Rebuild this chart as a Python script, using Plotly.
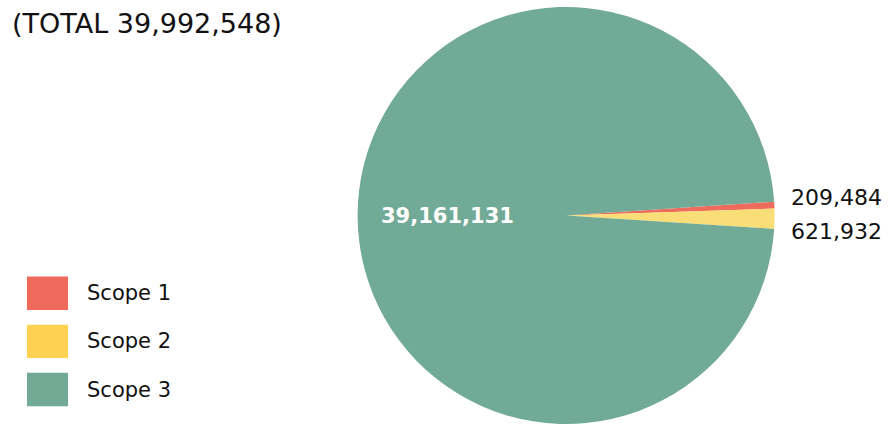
import plotly.graph_objects as go

categories = ["Scope 1", "Scope 2", "Scope 3"]
values = [209484, 621932, 39161131]
slice_colors = ["#EF6B5B", "#F9DE78", "#71AA96"]
legend_colors = ["#EF6A5A", "#FFD150", "#72AA96"]
title_text = "(TOTAL 39,992,548)"

FONT = "DejaVu Sans"
W, H = 888, 424

text_labels = [f"{v:,}" for v in values]

fig = go.Figure()
fig.add_trace(go.Pie(
    labels=categories,
    values=values,
    textinfo="none",
    marker=dict(colors=slice_colors, line=dict(width=0)),
    sort=False,
    direction="clockwise",
    rotation=86.2,
    domain=dict(x=[0.4, 0.875], y=[0, 1]),
    showlegend=False,
    hoverinfo="label+value",
))

annotations = []
# value labels (positions of label anchors in pixels)
label_pos = [(789, 194, "left", "#111111", False),
             (789, 228, "left", "#111111", False),
             (447, 213, "center", "#FFFFFF", True)]
for txt, (px, py, anc, col, bold) in zip(text_labels, label_pos):
    annotations.append(dict(
        text=txt, xref="paper", yref="paper",
        x=px / W, y=1 - py / H, xanchor=anc, yanchor="middle",
        showarrow=False,
        font=dict(family=FONT, size=21 if bold else 22, color=col,
                  weight="bold" if bold else "normal"),
    ))

# custom legend with large square swatches
shapes = []
y0 = 274
step = 49
for i, (cat, col) in enumerate(zip(categories, legend_colors)):
    top = y0 + i * step
    shapes.append(dict(
        type="rect", xref="paper", yref="paper",
        x0=27 / W, x1=68 / W,
        y0=1 - (top + 34) / H, y1=1 - top / H,
        fillcolor=col, line=dict(width=0), layer="above",
    ))
    annotations.append(dict(
        text=cat, xref="paper", yref="paper",
        x=85 / W, y=1 - (top + 17) / H,
        xanchor="left", yanchor="middle", showarrow=False,
        font=dict(family=FONT, size=21, color="#111111"),
    ))

fig.update_layout(
    width=W, height=H,
    margin=dict(l=0, r=0, t=7, b=0),
    paper_bgcolor="white", plot_bgcolor="white",
    title=dict(text=title_text, x=12 / W, xanchor="left", xref="container",
               y=1 - 24 / H, yanchor="middle", yref="container",
               font=dict(family=FONT, size=27, color="#111111")),
    shapes=shapes,
    annotations=annotations,
    font=dict(family=FONT),
)

fig.write_html("out.html", config={"displayModeBar": False},
               post_script="document.body.style.margin='0';document.body.style.padding='0';")
